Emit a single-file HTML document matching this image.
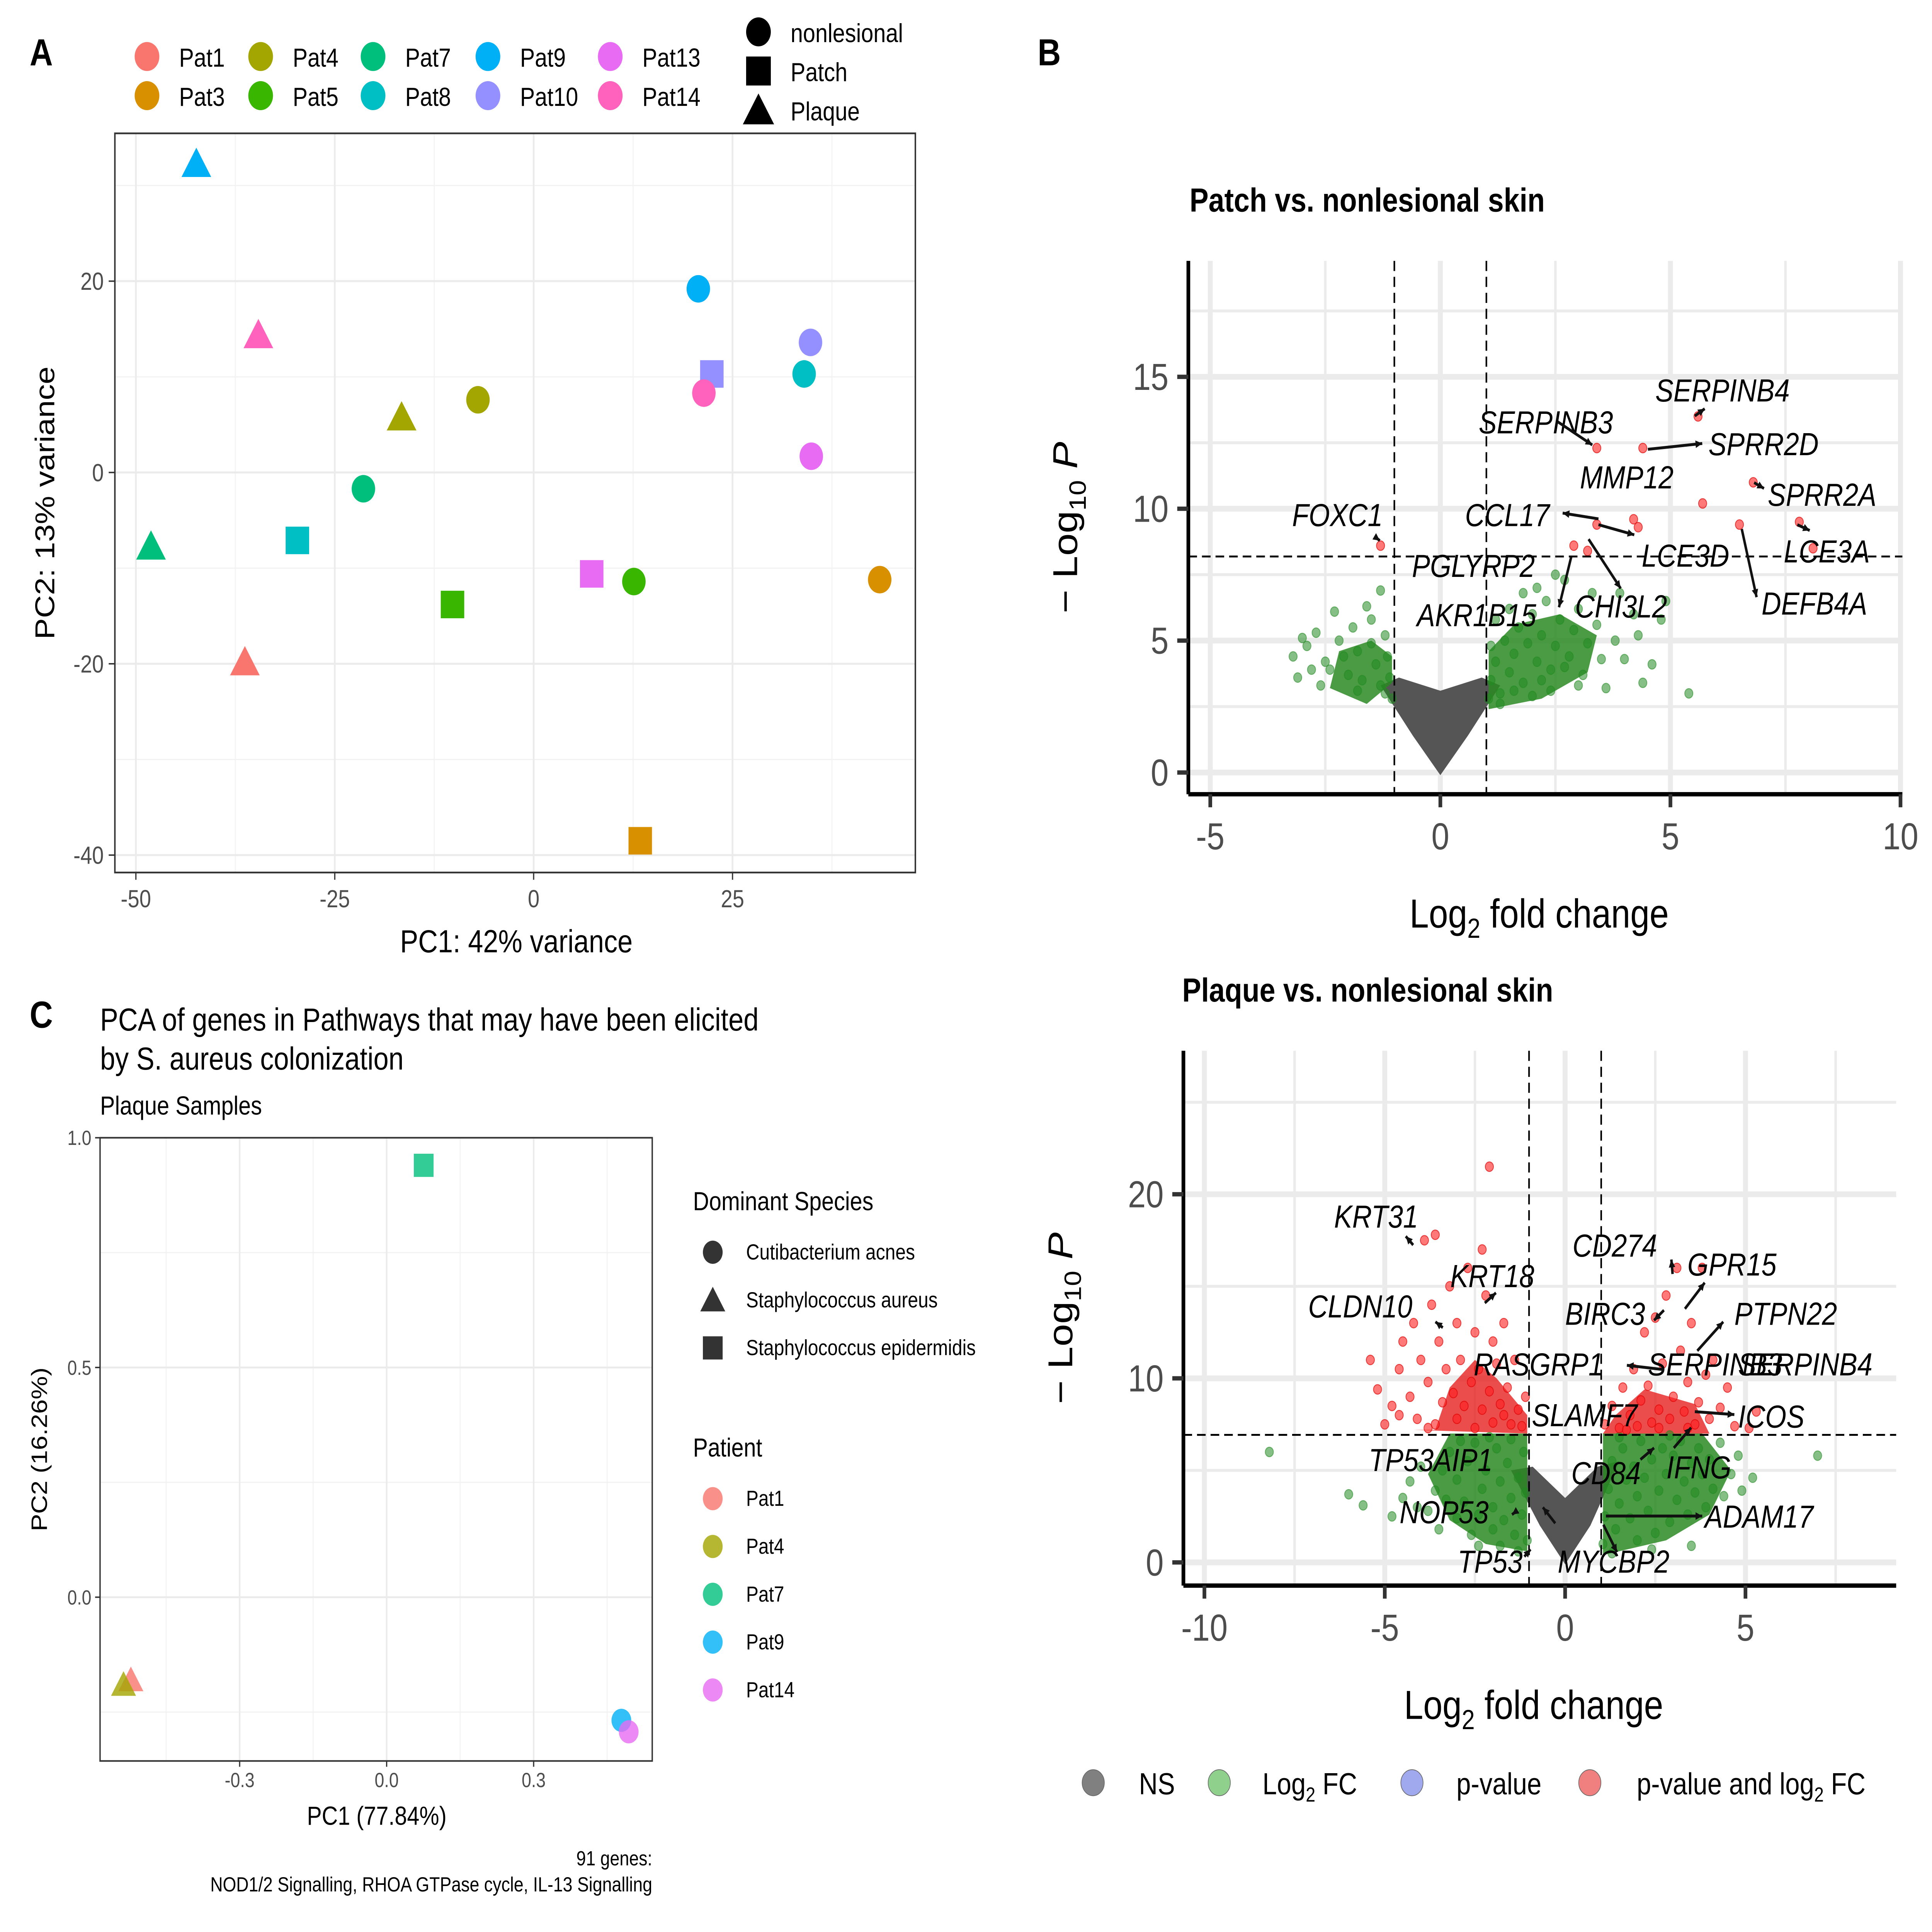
<!DOCTYPE html>
<html><head><meta charset="utf-8">
<style>
html,body{margin:0;padding:0;background:#fff;width:100%;height:100%;overflow:hidden;}
#fig{display:block;position:fixed;left:0;top:0;width:100vw;height:100vh;}
text{font-family:"Liberation Sans",Arial,sans-serif;}
</style></head>
<body>
<svg id="fig" xmlns="http://www.w3.org/2000/svg" viewBox="0 0 1564 1333" preserveAspectRatio="none">
<rect x="0" y="0" width="1564" height="1333" fill="#fff"/>
<g id="gA"></g>
<g id="gC"></g>
<g id="gB1"></g>
<g id="gB2"></g>
</svg>
<script>
// ---------- DATA: Panel A ----------
const aPatients = ["Pat1","Pat3","Pat4","Pat5","Pat7","Pat8","Pat9","Pat10","Pat13","Pat14"];
const aColors = ["#F8766D","#D89000","#A3A500","#39B600","#00BF7D","#00BFC4","#00B0F6","#9590FF","#E76BF3","#FF62BC"];
const aPointPatient = ["Pat9","Pat14","Pat4","Pat4","Pat7","Pat7","Pat8","Pat5","Pat1","Pat13","Pat5","Pat3","Pat3","Pat9","Pat10","Pat14","Pat10","Pat8","Pat13"];
const aPointShape = ["Plaque","Plaque","Plaque","nonlesional","nonlesional","Plaque","Patch","Patch","Plaque","Patch","nonlesional","Patch","nonlesional","nonlesional","Patch","nonlesional","nonlesional","nonlesional","nonlesional"];
const aPC1 = [-42.4,-34.6,-16.6,-7,-21.4,-48.1,-29.7,-10.2,-36.3,7.3,12.6,13.4,43.5,20.7,22.4,21.4,34.8,34,34.9];
const aPC2 = [32.3,14.4,5.8,7.6,-1.7,-7.7,-7.1,-13.8,-19.8,-10.6,-11.4,-38.5,-11.2,19.2,10.3,8.3,13.6,10.3,1.7];
const aXTicks = [-50,-25,0,25];
const aYTicks = [-40,-20,0,20];
// ---------- DATA: Panel C ----------
const cPatients = ["Pat1","Pat4","Pat7","Pat9","Pat14"];
const cColors = ["#F8766D","#A3A500","#00BF7D","#00B0F6","#E76BF3"];
const cPointPatient = ["Pat7","Pat1","Pat4","Pat9","Pat14"];
const cPointShape = ["epi","aur","aur","acn","acn"];
const cPC1 = [0.0756,-0.522,-0.537,0.479,0.494];
const cPC2 = [0.94,-0.18,-0.19,-0.268,-0.293];
const cXTicks = [-0.3,0.0,0.3];
const cYTicks = [0.0,0.5,1.0];
// ---------- DATA: Volcano top ----------
const v1GreenX = [-3.2,-3.1,-2.9,-2.7,-2.5,-2.4,-2.2,-2.1,-2,-1.9,-1.8,-1.7,-1.6,-1.5,-1.4,-1.3,-1.2,-1.15,-1.1,-1.05,-2.3,-1.8,-2.6,-1.5,-1.3,-1.2,-2.8,-3,
1.05,1.1,1.2,1.3,1.4,1.5,1.6,1.7,1.8,1.9,2,2.1,2.2,2.3,2.4,2.5,2.6,2.7,2.8,2.9,3,3.1,3.2,3.3,3.4,3.5,3.6,3.8,4,4.2,4.4,4.6,4.8,4.9,5.4,1.2,1.5,1.8,2.1,2.5,1.3,1.6,2,2.4,1.1,2.2,2.7,3,3.9,4.3];
const v1GreenY = [4.4,3.6,4.8,5.3,4.2,3.9,5,4.4,3.7,5.5,4.6,3.5,6.3,4.9,4.1,3.3,5.2,4.4,3.6,2.8,6.1,3.1,3.3,5.8,6.9,3,3.9,5.1,
2.8,3.5,4.2,3,5,3.8,4.5,5.5,3.4,4.9,6,4.2,5.2,6.5,3.9,4.8,5.8,7.3,4.4,5.4,6.2,3.7,4.9,6.8,5.6,4.3,3.2,5,4.3,6,3.4,4.1,5.8,6.5,3,5.8,6.2,6.8,7,7.5,2.6,3.1,2.9,3.1,4.8,3.5,4,3.3,6.8,5.2];
const v1RedX = [5.6,4.4,3.4,6.8,5.7,-1.3,3.4,4.2,4.3,6.5,7.8,3.2,2.9,8.1];
const v1RedY = [13.5,12.3,12.3,11,10.2,8.6,9.4,9.6,9.3,9.4,9.5,8.4,8.6,8.5];
const v1XTicks = [-5,0,5,10];
const v1YTicks = [0,5,10,15];
// ---------- DATA: Volcano bottom ----------
const v2GreenX = [-4.8,-4.5,-4.3,-4,-3.8,-3.6,-3.4,-3.2,-3,-3,-2.8,-2.7,-2.5,-2.4,-2.3,-2.2,-2,-2,-1.9,-1.8,-1.7,-1.6,-1.5,-1.4,-1.3,-1.2,-1.15,-1.1,-1.05,-3.5,-2.6,-1.8,-6,-5.6,-8.2,-4.1,-3.3,-2.9,-2.1,-1.5,-1.3,-2.4,
1.05,1.1,1.2,1.3,1.4,1.5,1.6,1.7,1.8,1.9,2,2,2.1,2.2,2.3,2.4,2.5,2.6,2.7,2.8,2.9,3,3.1,3.2,3.3,3.4,3.5,3.6,3.7,3.8,3.9,4,4.1,4.3,4.4,4.6,4.8,4.9,7,5.2,1.3,2.4,1.5,2.9,3.5];
const v2GreenY = [2.5,3.5,4.4,5.2,2.8,3.9,5,6,2.4,4.5,3.3,5.5,6.5,2.6,4,5,1.8,3,6.2,4.4,2.3,5.4,3.5,1.5,4.6,2.6,6,3.8,1.2,1.8,1.5,0.9,3.7,3.1,6,3,3.4,6.6,6.8,6.7,0.6,0.9,
1,2.5,4,5.5,1.8,3.2,6.2,4.5,2.4,5.2,1.2,3.6,6.6,4.6,2.8,5.6,1.6,3.9,6.2,4.8,2.2,5.8,3.4,6.6,4.4,2.6,5.4,3.8,6.2,4.8,3,5.6,4,6.5,3.6,4.8,5.8,3.9,5.8,4.6,0.5,0.7,6.8,6.9,0.9];
const v2RedX = [-5.4,-5.2,-5,-4.8,-4.6,-4.5,-4.3,-4.2,-4.1,-4,-3.9,-3.8,-3.7,-3.6,-3.5,-3.4,-3.3,-3.2,-3.1,-3,-3,-2.9,-2.8,-2.7,-2.6,-2.5,-2.5,-2.4,-2.3,-2.2,-2.1,-2,-2,-1.9,-1.8,-1.7,-1.6,-1.5,-1.4,-1.3,-1.2,-2.1,-3.6,-2.3,-1.7,-1.1,-4.6,-3.8,
1.1,1.3,1.5,1.6,1.8,1.9,2,2.1,2.2,2.3,2.4,2.5,2.6,2.7,2.8,2.9,3,3.1,3.2,3.3,3.4,3.5,3.6,3.7,3.8,3.9,4,4.1,4.3,4.5,4.7,5.3,5.1,1.7,2.6,3.4];
const v2RedY = [11,9.4,7.5,8.5,10.5,12,9,13,7.8,11,17.5,9.8,14,7.5,12,8.7,10.5,15,9.2,13,7.8,11,8.5,16,9.8,12.5,7.3,10.5,8.3,14.5,9.3,12,7.6,10.8,8.6,13,9.5,7.5,11,8.3,7.4,21.5,17.8,17,8,9,8,7.3,
7.5,8.5,7.3,9.5,8,10.5,7.4,8.8,12.5,9.6,7.6,13.3,8.3,10.8,14.5,7.8,9,16,11.5,8.2,9.8,13,7.5,8.7,16,10.2,7.8,11,8.4,9.5,7.4,8.2,7.3,7.2,7.3,7.3];
const v2XTicks = [-10,-5,0,5];
const v2YTicks = [0,10,20];

// ---------- helpers ----------
const NS="http://www.w3.org/2000/svg";
function mk(parent, tag, attrs, txt){
  const e=document.createElementNS(NS,tag);
  for(const k in attrs) e.setAttribute(k,attrs[k]);
  if(txt!==undefined) e.textContent=txt;
  parent.appendChild(e); return e;
}
function shape(parent, kind, cx, cy, r, fill, opacity){
  let e;
  if(kind==="circle"){ e=mk(parent,"circle",{cx:cx,cy:cy,r:r,fill:fill,"fill-opacity":opacity}); }
  else if(kind==="square"){ e=mk(parent,"rect",{x:cx-r,y:cy-r,width:2*r,height:2*r,fill:fill,"fill-opacity":opacity}); }
  else { const h=r*1.15; e=mk(parent,"polygon",{points:`${cx},${cy-h} ${cx-h*1.1},${cy+h*0.85} ${cx+h*1.1},${cy+h*0.85}`,fill:fill,"fill-opacity":opacity}); }
  return e;
}

// ================= PANEL A =================
(function(){
  const g=document.getElementById('gA');
  const L=93,R=741,T=92,B=602;
  const xA=v=>432+v*(161/25), yA=v=>326-v*(132/20);
  const lbl=mk(g,"text",{x:24,y:45,"font-size":26,"font-weight":"bold"},"A");
  
  
  mk(g,"rect",{x:L,y:T,width:R-L,height:B-T,fill:"#fff"});
  for(let v=-62.5; v<=50; v+=25){const x=xA(v); if(x>L&&x<R) mk(g,"line",{x1:x,x2:x,y1:T,y2:B,stroke:"#f2f2f2","stroke-width":0.8});}
  for(let v=-50; v<=30; v+=20){const y=yA(v); if(y>T&&y<B) mk(g,"line",{x1:L,x2:R,y1:y,y2:y,stroke:"#f2f2f2","stroke-width":0.8});}
  aXTicks.forEach(v=>{const x=xA(v);
    mk(g,"line",{x1:x,x2:x,y1:T,y2:B,stroke:"#ebebeb","stroke-width":1.4});
    mk(g,"line",{x1:x,x2:x,y1:B,y2:B+5,stroke:"#333","stroke-width":1});
    const t=mk(g,"text",{x:x,y:B+24,"font-size":17,fill:"#4d4d4d","text-anchor":"middle"},String(v));
    
    });
  aYTicks.forEach(v=>{const y=yA(v);
    mk(g,"line",{x1:L,x2:R,y1:y,y2:y,stroke:"#ebebeb","stroke-width":1.4});
    mk(g,"line",{x1:L-5,x2:L,y1:y,y2:y,stroke:"#333","stroke-width":1});
    const t=mk(g,"text",{x:L-9,y:y+6,"font-size":17,fill:"#4d4d4d","text-anchor":"end"},String(v));
    
    });
  mk(g,"rect",{x:L,y:T,width:R-L,height:B-T,fill:"none",stroke:"#333","stroke-width":1.2});
  const sh={nonlesional:"circle",Patch:"square",Plaque:"triangle"};
  for(let i=0;i<aPC1.length;i++){
    const c=aColors[aPatients.indexOf(aPointPatient[i])];
    const e=shape(g,sh[aPointShape[i]],xA(aPC1[i]),yA(aPC2[i]),9.5,c,1);
    
    
  }
  let t=mk(g,"text",{x:418,y:657,"font-size":22,"text-anchor":"middle"},"PC1: 42% variance");
  
  
  t=mk(g,"text",{x:0,y:0,"font-size":22,"text-anchor":"middle",transform:"translate(44,347) rotate(-90)"},"PC2: 13% variance");
  
  
  const colX=[119,211,302,395,494];
  aPatients.forEach((p,i)=>{
    const col=Math.floor(i/2), row=i%2;
    const x=colX[col], y=39+row*27;
    const lg=mk(g,"g",{});
    
    
    mk(lg,"circle",{cx:x,cy:y,r:10,fill:aColors[i]});
    mk(lg,"text",{x:x+26,y:y+7,"font-size":18},p);
  });
  const sl=[["circle","nonlesional"],["square","Patch"],["triangle","Plaque"]];
  sl.forEach((s,i)=>{
    const lg=mk(g,"g",{});
    
    
    shape(lg,s[0],614,22+i*27,10,"#000",1);
    mk(lg,"text",{x:640,y:29+i*27,"font-size":18},s[1]);
  });
})();

// ================= PANEL C =================
(function(){
  const g=document.getElementById('gC');
  const L=81,R=528,T=785,B=1215;
  const xC=v=>313+v*(119/0.3), yC=v=>1102-v*(158.5/0.5);
  let t=mk(g,"text",{x:24,y:709,"font-size":26,"font-weight":"bold"},"C");
  
  
  t=mk(g,"text",{x:81,y:711,"font-size":22},"PCA of genes in Pathways that may have been elicited");
  
  
  t=mk(g,"text",{x:81,y:738,"font-size":22},"by S. aureus colonization");
  
  
  t=mk(g,"text",{x:81,y:769,"font-size":18},"Plaque Samples");
  
  
  for(let v=-0.45; v<=0.5; v+=0.3){const x=xC(v); if(x>L&&x<R) mk(g,"line",{x1:x,x2:x,y1:T,y2:B,stroke:"#f2f2f2","stroke-width":0.8});}
  [-0.25,0.25,0.75].forEach(v=>{const y=yC(v); mk(g,"line",{x1:L,x2:R,y1:y,y2:y,stroke:"#f2f2f2","stroke-width":0.8});});
  cXTicks.forEach(v=>{const x=xC(v);
    mk(g,"line",{x1:x,x2:x,y1:T,y2:B,stroke:"#ebebeb","stroke-width":1.3});
    mk(g,"line",{x1:x,x2:x,y1:B,y2:B+4,stroke:"#333","stroke-width":1});
    const s=mk(g,"text",{x:x,y:B+18,"font-size":14,fill:"#4d4d4d","text-anchor":"middle"},v.toFixed(1));
    
    });
  cYTicks.forEach(v=>{const y=yC(v);
    mk(g,"line",{x1:L,x2:R,y1:y,y2:y,stroke:"#ebebeb","stroke-width":1.3});
    mk(g,"line",{x1:L-4,x2:L,y1:y,y2:y,stroke:"#333","stroke-width":1});
    const s=mk(g,"text",{x:L-7,y:y+5,"font-size":14,fill:"#4d4d4d","text-anchor":"end"},v.toFixed(1));
    
    });
  mk(g,"rect",{x:L,y:T,width:R-L,height:B-T,fill:"none",stroke:"#333","stroke-width":1.1});
  const sh={acn:"circle",aur:"triangle",epi:"square"};
  for(let i=0;i<cPC1.length;i++){
    const c=cColors[cPatients.indexOf(cPointPatient[i])];
    const e=shape(g,sh[cPointShape[i]],xC(cPC1[i]),yC(cPC2[i]),8,c,0.8);
    
    
  }
  t=mk(g,"text",{x:305,y:1259,"font-size":18,"text-anchor":"middle"},"PC1 (77.84%)");
  
  
  t=mk(g,"text",{x:0,y:0,"font-size":18,"text-anchor":"middle",transform:"translate(38,1000) rotate(-90)"},"PC2 (16.26%)");
  
  
  t=mk(g,"text",{x:528,y:1287,"font-size":14,"text-anchor":"end"},"91 genes:");
  
  
  t=mk(g,"text",{x:528,y:1305,"font-size":14,"text-anchor":"end"},"NOD1/2 Signalling, RHOA GTPase cycle, IL-13 Signalling");
  
  
  t=mk(g,"text",{x:561,y:835,"font-size":18},"Dominant Species");
  
  
  const sp=[["circle","Cutibacterium acnes"],["triangle","Staphylococcus aureus"],["square","Staphylococcus epidermidis"]];
  sp.forEach((s,i)=>{
    const lg=mk(g,"g",{});
    
    
    shape(lg,s[0],577,864+i*33,8,"#333",1);
    mk(lg,"text",{x:604,y:869+i*33,"font-size":15},s[1]);
  });
  t=mk(g,"text",{x:561,y:1005,"font-size":18},"Patient");
  
  
  cPatients.forEach((p,i)=>{
    const lg=mk(g,"g",{});
    
    
    mk(lg,"circle",{cx:577,cy:1034+i*33,r:8,fill:cColors[i],"fill-opacity":0.8});
    mk(lg,"text",{x:604,y:1039+i*33,"font-size":15},p);
  });
})();

// ================= VOLCANOES =================
function volcano(g, cfg){
  const {L,R,T,B,x0,xs,y0,ys,xTicks,yTicks,minorX,minorY,vline,hline,greenX,greenY,redX,redY,nsPoly,greenPolys,redPolys,title,titleX,titleY,tickFont} = cfg;
  const X=v=>x0+v*xs, Y=v=>y0-v*ys;
  let t=mk(g,"text",{x:titleX,y:titleY,"font-size":23,"font-weight":"bold"},title);
  
  
  minorX.forEach(v=>mk(g,"line",{x1:X(v),x2:X(v),y1:T,y2:B,stroke:"#ebebeb","stroke-width":2}));
  minorY.forEach(v=>mk(g,"line",{x1:L,x2:R,y1:Y(v),y2:Y(v),stroke:"#ebebeb","stroke-width":2}));
  xTicks.forEach(v=>{mk(g,"line",{x1:X(v),x2:X(v),y1:T,y2:B,stroke:"#ebebeb","stroke-width":4});});
  yTicks.forEach(v=>{mk(g,"line",{x1:L,x2:R,y1:Y(v),y2:Y(v),stroke:"#ebebeb","stroke-width":4});});
  const ns=mk(g,"polygon",{points:nsPoly.map(p=>X(p[0])+","+Y(p[1])).join(" "),fill:"#555"});
  
  
  greenPolys.forEach(pl=>{
    const e=mk(g,"polygon",{points:pl.map(p=>X(p[0])+","+Y(p[1])).join(" "),fill:"#2a8a22","fill-opacity":0.85});
    
    
  });
  (redPolys||[]).forEach(pl=>{
    const e=mk(g,"polygon",{points:pl.map(p=>X(p[0])+","+Y(p[1])).join(" "),fill:"#e62020","fill-opacity":0.8});
    
    
  });
  for(let i=0;i<greenX.length;i++){
    const e=mk(g,"circle",{cx:X(greenX[i]),cy:Y(greenY[i]),r:3.3,fill:"#228B22","fill-opacity":0.55,stroke:"#228B22","stroke-opacity":0.6,"stroke-width":0.6});
    
    
  }
  for(let i=0;i<redX.length;i++){
    const e=mk(g,"circle",{cx:X(redX[i]),cy:Y(redY[i]),r:3.3,fill:"#ff2020","fill-opacity":0.6,stroke:"#e00000","stroke-opacity":0.7,"stroke-width":0.6});
    
    
  }
  vline.forEach(v=>mk(g,"line",{x1:X(v),x2:X(v),y1:T,y2:B,stroke:"#000","stroke-width":1.3,"stroke-dasharray":"7,4"}));
  mk(g,"line",{x1:L,x2:R,y1:Y(hline),y2:Y(hline),stroke:"#000","stroke-width":1.3,"stroke-dasharray":"7,4"});
  mk(g,"line",{x1:L,x2:L,y1:T,y2:B,stroke:"#000","stroke-width":3});
  mk(g,"line",{x1:L,x2:R,y1:B,y2:B,stroke:"#000","stroke-width":3});
  xTicks.forEach(v=>{
    mk(g,"line",{x1:X(v),x2:X(v),y1:B,y2:B+9,stroke:"#333","stroke-width":3});
    const s=mk(g,"text",{x:X(v),y:B+38,"font-size":tickFont,fill:"#4d4d4d","text-anchor":"middle"},String(v));
    
    
  });
  yTicks.forEach(v=>{
    mk(g,"line",{x1:L-9,x2:L,y1:Y(v),y2:Y(v),stroke:"#333","stroke-width":3});
    const s=mk(g,"text",{x:L-16,y:Y(v)+9,"font-size":tickFont,fill:"#4d4d4d","text-anchor":"end"},String(v));
    
    
  });
  const xt=mk(g,"text",{x:(L+R)/2-5,y:B+92,"font-size":28,"text-anchor":"middle"});
  
  
  xt.innerHTML='Log<tspan font-size="19" dy="7">2</tspan><tspan dy="-7">  fold change</tspan>';
  const yt=mk(g,"text",{x:0,y:0,"font-size":28,"text-anchor":"middle",transform:`translate(${L-90},${(T+B)/2}) rotate(-90)`});
  
  
  yt.innerHTML='− Log<tspan font-size="19" dy="7">10</tspan><tspan dy="-7" font-style="italic"> P</tspan>';
  return {X,Y};
}
function labels(g, list){
  list.forEach(l=>{
    const t=mk(g,"text",{x:l[1],y:l[2],"font-size":22,"font-style":"italic","text-anchor":l[3]||"start"},l[0]);
    
    
  });
}
function arrows(g, list){
  list.forEach(a=>{
    mk(g,"line",{x1:a[0],y1:a[1],x2:a[2],y2:a[3],stroke:"#111","stroke-width":2});
    const ang=Math.atan2(a[3]-a[1],a[2]-a[0]);
    const s=6;
    mk(g,"polygon",{points:`${a[2]},${a[3]} ${a[2]-s*Math.cos(ang-0.45)},${a[3]-s*Math.sin(ang-0.45)} ${a[2]-s*Math.cos(ang+0.45)},${a[3]-s*Math.sin(ang+0.45)}`,fill:"#111"});
  });
}
(function(){
  const g=document.getElementById('gB1');
  let t=mk(g,"text",{x:840,y:45,"font-size":26,"font-weight":"bold"},"B");
  
  
  volcano(g,{L:962,R:1540,T:180,B:548,x0:1166,xs:37.25,y0:533,ys:18.2,
    xTicks:v1XTicks,yTicks:v1YTicks,minorX:[-2.5,2.5,7.5],minorY:[2.5,7.5,12.5,17.5],
    vline:[-1,1],hline:8.19,greenX:v1GreenX,greenY:v1GreenY,redX:v1RedX,redY:v1RedY,
    nsPoly:[[-1.3,3.3],[-0.6,1.4],[0,-0.1],[0.6,1.4],[1.3,3.3],[0.9,3.6],[0,3.1],[-0.9,3.6]],
    greenPolys:[[[-1.05,3.4],[-1.6,2.6],[-2.4,3.2],[-2.2,4.6],[-1.5,5],[-1.05,4.4]],[[1.05,2.4],[1.05,4.6],[1.6,5.6],[2.6,6],[3.4,5.2],[3.2,3.8],[2.2,2.8]]],
    title:"Patch vs. nonlesional skin",titleX:963,titleY:146,tickFont:26});
  labels(g,[["SERPINB4",1340,277],["SERPINB3",1197,299],["SPRR2D",1383,314],["MMP12",1279,337],["SPRR2A",1431,349],["FOXC1",1046,363],["CCL17",1186,363],["LCE3D",1329,391],["LCE3A",1444,388],["PGLYRP2",1143,398],["CHI3L2",1275,426],["DEFB4A",1426,424],["AKR1B15",1147,432]]);
  arrows(g,[[1372,287,1380,282],[1334,310,1378,306],[1261,291,1289,307],[1420,333,1428,337],[1114,371,1117,373],[1294,358,1265,354],[1294,362,1323,369],[1455,362,1465,366],[1410,365,1422,412],[1286,372,1312,406],[1272,384,1262,419]]);
})();
(function(){
  const g=document.getElementById('gB2');
  volcano(g,{L:958,R:1535,T:725,B:1094,x0:1267,xs:29.2,y0:1078,ys:12.7,
    xTicks:v2XTicks,yTicks:v2YTicks,minorX:[-7.5,-2.5,2.5,7.5],minorY:[5,15,25],
    vline:[-1,1],hline:6.93,greenX:v2GreenX,greenY:v2GreenY,redX:v2RedX,redY:v2RedY,
    nsPoly:[[-1.5,5],[-0.7,2],[0,-0.1],[0.7,2],[1.5,5.5],[0.9,5.2],[0,3.5],[-0.9,5.2]],
    greenPolys:[[[-1.05,7],[-3.2,7],[-3.8,4.8],[-3.2,2.3],[-2.2,1],[-1.05,0.6]],[[1.05,7],[3.8,7],[4.6,5],[4,2.6],[2.8,1.2],[1.05,0.4]]],
    redPolys:[[[-4.2,7.2],[-3.6,7.2],[-3.2,9.5],[-2.5,11],[-1.9,10],[-1.05,8],[-1.05,7]],[[1.05,7],[4,7],[3.6,8.6],[2.2,9.4],[1.4,8]]],
    title:"Plaque vs. nonlesional skin",titleX:957,titleY:691,tickFont:26});
  labels(g,[["KRT31",1080,847],["CD274",1273,867],["GPR15",1366,880],["KRT18",1174,888],["CLDN10",1059,909],["BIRC3",1267,914],["PTPN22",1404,914],["RASGRP1",1193,949],["SERPINB3",1334,949],["SERPINB4",1407,949],["ICOS",1407,985],["SLAMF7",1240,984],["TP53AIP1",1108,1015],["IFNG",1349,1020],["CD84",1272,1024],["NOP53",1133,1051],["ADAM17",1380,1054],["TP53",1180,1085],["MYCBP2",1261,1085]]);
  arrows(g,[[1144,859,1138,853],[1354,879,1353,869],[1364,903,1380,885],[1202,899,1211,892],[1168,916,1162,912],[1347,904,1339,911],[1374,932,1395,912],[1347,945,1317,942],[1372,974,1404,976],[1355,999,1369,985],[1328,1007,1339,999],[1259,1051,1249,1040],[1227,1043,1224,1045],[1300,1046,1378,1046],[1234,1074,1239,1069],[1298,1052,1309,1071]]);
  const leg=[["#808080","NS",885,922],["#8fd18c","Log2 FC",987,1022],["#a0a8ee","p-value",1143,1179],["#f08080","p-value  and  log2 FC",1287,1325]];
  leg.forEach(l=>{
    const lg=mk(g,"g",{});
    
    
    mk(lg,"circle",{cx:l[2],cy:1230,r:9,fill:l[0],stroke:"#666","stroke-width":0.5});
    const t=mk(lg,"text",{x:l[3],y:1238,"font-size":21});
    if(l[1]==="Log2 FC") t.innerHTML='Log<tspan font-size="14" dy="5">2</tspan><tspan dy="-5">  FC</tspan>';
    else if(l[1].indexOf("log2")>=0) t.innerHTML='p-value  and  log<tspan font-size="14" dy="5">2</tspan><tspan dy="-5">  FC</tspan>';
    else t.textContent=l[1];
  });
})();
</script>
</body></html>
